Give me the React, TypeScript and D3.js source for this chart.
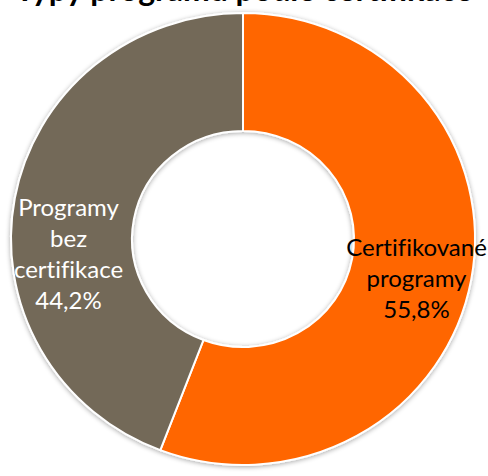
import { useEffect, useRef } from 'react';
import * as d3 from 'd3';

const categories = ['Certifikované programy', 'Programy bez certifikace'];
const values = [55.8, 44.2];
const labelLines = [
  ['Certifikované', 'programy', '55,8%'],
  ['Programy', 'bez', 'certifikace', '44,2%'],
];
const colors = ['#FF6600', '#736959'];
const labelColors = ['#000000', '#FFFFFF'];
const title = 'Typy programů podle certifikace';

function App() {
  const ref = useRef<SVGSVGElement>(null);

  useEffect(() => {
    const width = 488;
    const height = 476;
    const cx = 243;
    const cy = 239;
    const outer = 232;
    const inner = 111;

    const svg = d3.select(ref.current);
    svg.selectAll('*').remove();

    const defs = svg.append('defs');
    const f = defs.append('filter').attr('id', 'sh').attr('x', '-10%').attr('y', '-10%').attr('width', '120%').attr('height', '120%');
    f.append('feGaussianBlur').attr('in', 'SourceAlpha').attr('stdDeviation', 2.5);
    f.append('feOffset').attr('dx', 0).attr('dy', 1).attr('result', 'b');
    f.append('feComponentTransfer').append('feFuncA').attr('type', 'linear').attr('slope', 0.35);
    const m = f.append('feMerge');
    m.append('feMergeNode');
    m.append('feMergeNode').attr('in', 'SourceGraphic');

    svg.append('rect').attr('width', width).attr('height', height).attr('fill', '#fff');

    // title sits mostly above the top edge, as in the reference
    svg.append('text')
      .attr('x', 244)
      .attr('y', 1)
      .attr('text-anchor', 'middle')
      .attr('font-family', 'Lato, sans-serif')
      .attr('font-weight', 'bold')
      .attr('font-size', 32)
      .attr('fill', '#000')
      .text(title);

    const data = categories.map((c, i) => ({ c, v: values[i], i }));
    const pie = d3.pie<any>().sort(null).value((d) => d.v);
    const arc = d3.arc<any>().innerRadius(inner).outerRadius(outer);
    const arcs = pie(data);

    // ring is slightly squashed vertically in the reference
    const g = svg.append('g').attr('transform', `translate(${cx},${cy}) scale(1,0.974)`);

    g.append('g')
      .attr('filter', 'url(#sh)')
      .selectAll('path')
      .data(arcs)
      .enter()
      .append('path')
      .attr('d', arc)
      .attr('fill', (d) => colors[d.data.i])
      .attr('stroke', '#fff')
      .attr('stroke-width', 2)
      .attr('vector-effect', 'non-scaling-stroke');

    const lg = svg.append('g').attr('transform', `translate(${cx},${cy})`);
    const labelR = (inner + outer) / 2;
    const lineH = 31;
    const offsets = [
      { dx: 2, dy: 40 },
      { dx: -3, dy: 15 },
    ];
    arcs.forEach((d) => {
      const i = d.data.i;
      const mid = i === 0 ? Math.PI / 2 : -Math.PI / 2;
      const lx = Math.sin(mid) * labelR + offsets[i].dx;
      const lines = labelLines[i];
      const t = lg.append('text')
        .attr('text-anchor', 'middle')
        .attr('font-family', 'Lato, sans-serif')
        .attr('font-size', 24)
        .style('font-variant-ligatures', 'none')
        .attr('fill', labelColors[i]);
      lines.forEach((ln, k) => {
        t.append('tspan')
          .attr('x', lx)
          .attr('y', offsets[i].dy + (k - (lines.length - 1) / 2) * lineH + 8)
          .text(ln);
      });
    });
  }, []);

  return (
    <svg
      ref={ref}
      width={488}
      height={476}
      style={{ position: 'absolute', left: 0, top: 0 }}
    ></svg>
  );
}

export default App;
